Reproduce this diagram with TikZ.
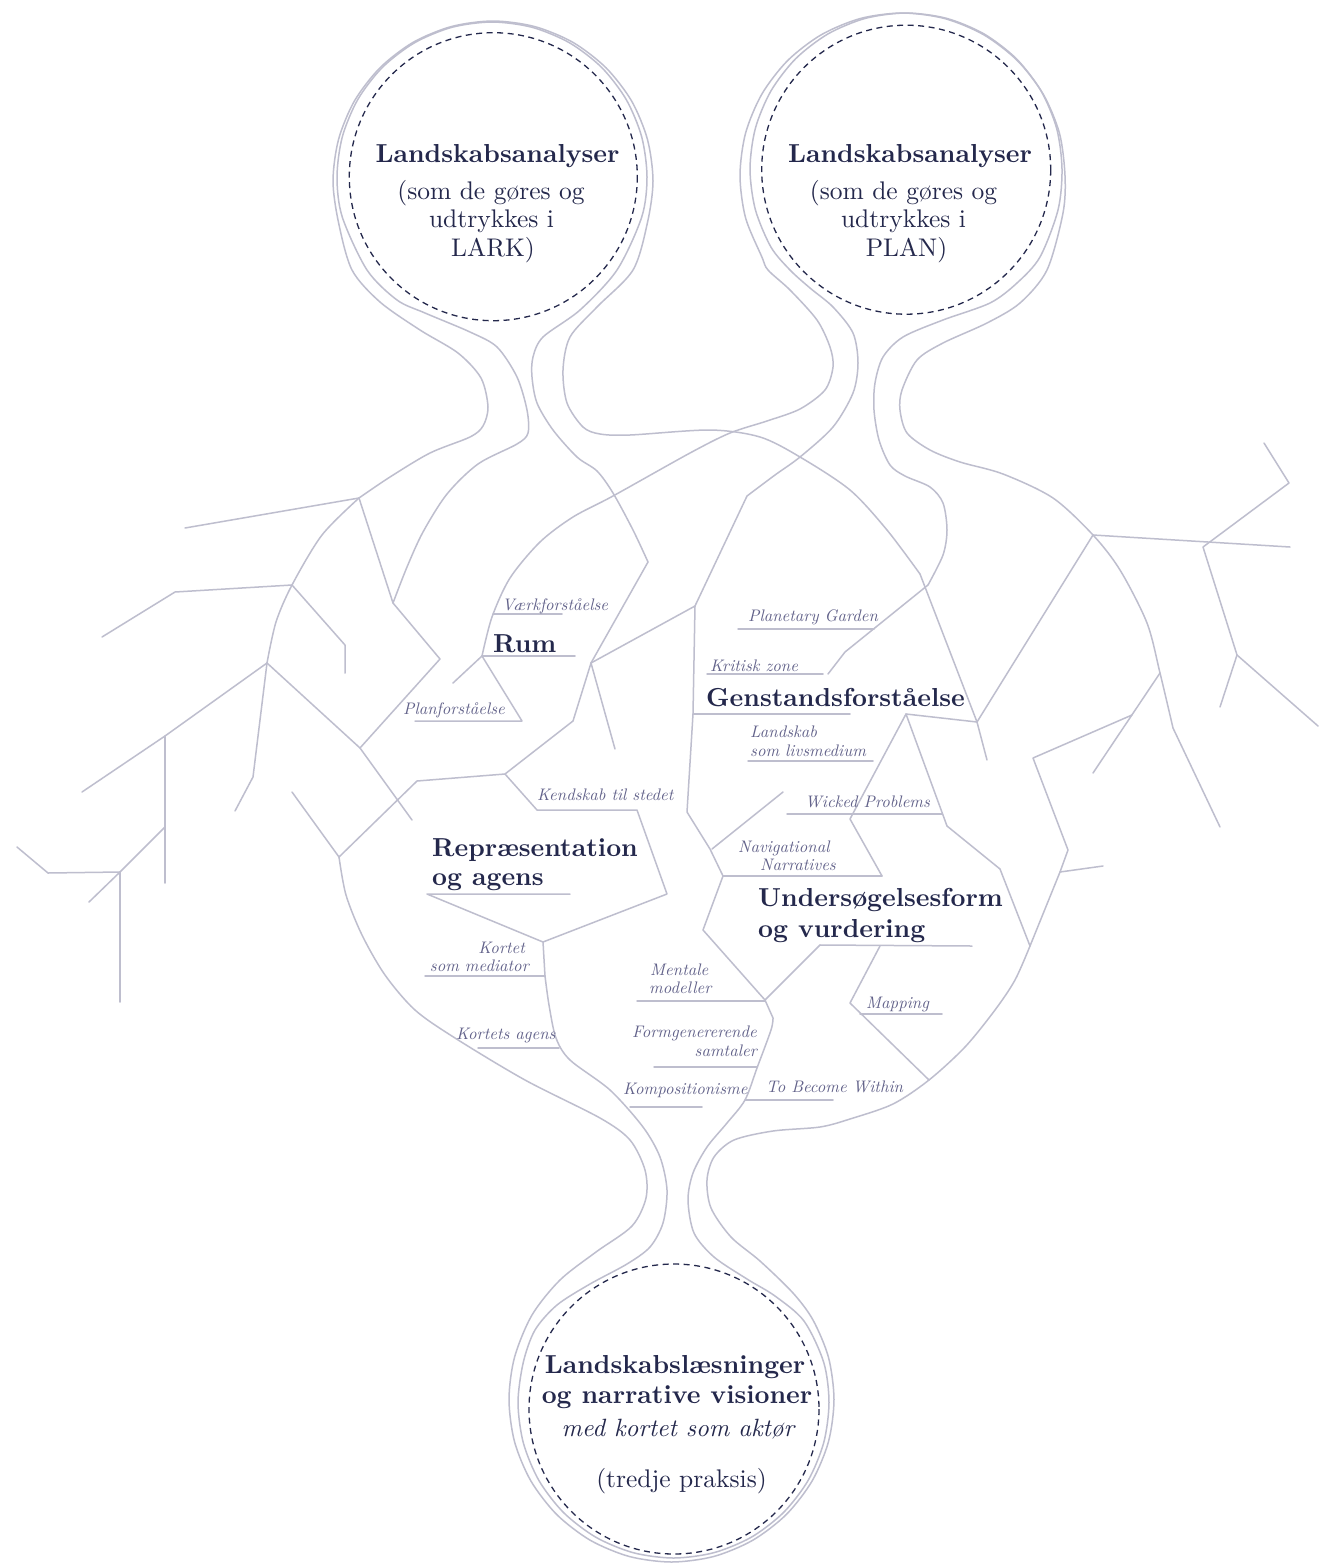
\documentclass[tikz,border=0pt]{standalone}
\usepackage{fontspec}
\setmainfont{lmroman10-regular.otf}[BoldFont=lmroman10-bold.otf, ItalicFont=lmroman10-italic.otf, BoldItalicFont=lmroman10-bolditalic.otf]
\definecolor{ln}{HTML}{BEBECE}
\definecolor{ink}{HTML}{24284C}
\definecolor{lab}{HTML}{62628A}
\tikzset{
  br/.style={draw=ln, line width=1.5pt, line cap=round, line join=round},
  dsh/.style={draw=ink, line width=1.3pt, dash pattern=on 6pt off 4.5pt},
  ttl/.style={font=\fontsize{26}{30}\selectfont\bfseries, text=ink, inner sep=0pt},
  txt/.style={font=\fontsize{25.5}{29}\selectfont, text=ink, inner sep=0pt},
  itx/.style={font=\fontsize{25}{29}\selectfont\itshape, text=ink, inner sep=0pt},
  lbl/.style={font=\fontsize{16.7}{19}\selectfont\itshape, text=lab, inner sep=0pt}
}
\begin{document}
\begin{tikzpicture}[x=1pt,y=-1pt]
\path[use as bounding box] (0,0) rectangle (1319,1564);
\fill[white] (0,0) rectangle (1319,1564);

% ---------- top-left circle strokes ----------
\draw[br] plot[smooth] coordinates {(359,498) (390,477) (430,453) (470,437) (483,426) (488,407) (481,378) (458,353) (420,330) (380,302) (352,270) (338.5,222.4) (333,181) (338.5,139.6) (354.4,101) (379.9,67.9) (413,42.4) (451.6,26.5) (493,21) (534.4,26.5) (573,42.4) (606.1,67.9) (631.6,101) (647.5,139.6) (653,181) (647.5,222.4) (633,270) (597,307) (570,337) (563,370) (567,403) (583,427) (600,434) (630,435) (710,430) (760,437) (800,457) (850,490) (887,530) (920,574)};
\draw[br] (920,574) -- (977,722) -- (987,760);
\draw[br] plot[smooth] coordinates {(393,603) (407,567) (423,532) (447,494) (478,464) (517,444) (528,433) (527,410) (517,377) (497,347) (470,332) (425,313) (397,300) (367,270) (342.3,217.1) (337,177) (342.3,136.9) (357.8,99.5) (382.4,67.4) (414.5,42.8) (451.9,27.3) (492,22) (532.1,27.3) (569.5,42.8) (601.6,67.4) (626.2,99.5) (641.7,136.9) (647,177) (641.7,217.1) (617,270) (580,310) (543,337) (533,357) (532,377) (537,403) (553,430) (577,457) (597,471) (613,493) (633,530) (648,562)};
\draw[br] (648,562) -- (591,663);

% ---------- top-right circle strokes ----------
\draw[br] plot[smooth] coordinates {(482,656) (492,617) (510,578) (540,542) (573,517) (613,496) (690,453) (730,433) (767,421) (800,409) (825,390) (833,367) (830,347) (817,320) (790,290) (768,270) (761.8,256.8) (745.5,217.6) (740,175.5) (745.5,133.4) (761.8,94.2) (787.6,60.6) (821.2,34.8) (860.4,18.5) (902.5,13) (944.6,18.5) (983.8,34.8) (1017.4,60.6) (1043.2,94.2) (1059.5,133.4) (1065,175.5) (1063,213) (1047,270) (1020,303) (987,323) (943,343) (917,360) (902,390) (900,410) (907,433) (930,450) (960,462) (1003,474) (1053,498) (1093,535) (1120,570) (1147,623) (1160,673) (1173,728)};
\draw[br] (1173,728) -- (1220,827);
\draw[br] (695,606) -- (747,496);
\draw[br] plot[smooth] coordinates {(747,496) (775,475) (800,457) (833,427) (853,393) (858,363) (853,333) (833,307) (810,288) (790,270) (770.9,247) (755.3,209.4) (750,169) (755.3,128.6) (770.9,91) (795.7,58.7) (828,33.9) (865.6,18.3) (906,13) (946.4,18.3) (984,33.9) (1016.3,58.7) (1041.1,91) (1056.7,128.6) (1062,169) (1058,210) (1040,257) (1017,283) (990,303) (943,320) (903,337) (883,357) (875,383) (874,410) (879,440) (890,465) (905,476) (930,487) (943,503) (947,530) (943,555) (928,585)};
\draw[br] (928,585) -- (845,652) -- (828,674);

% ---------- bottom circle strokes ----------
\draw[br] plot[smooth] coordinates {(339,857) (346,895) (362,935) (385,975) (415,1010) (455,1038) (525,1080) (600,1118) (630,1140) (645,1170) (646,1198) (632,1226) (596,1252) (560,1280) (532,1315) (514.5,1357.4) (509,1399.5) (514.5,1441.6) (530.8,1480.8) (556.6,1514.4) (590.2,1540.2) (629.4,1556.5) (671.5,1562) (713.6,1556.5) (752.8,1540.2) (786.4,1514.4) (812.2,1480.8) (828.5,1441.6) (834,1399.5) (828.5,1357.4) (813,1320) (793,1293) (760,1261) (731,1237) (711,1208) (707,1180) (714,1157) (734,1140) (773,1131) (820,1127) (850,1119) (893,1104) (929,1080) (965,1047) (995,1010) (1015,980) (1030,946)};
\draw[br] (543,942) -- (545,976);
\draw[br] plot[smooth] coordinates {(545,976) (549,1005) (556,1038) (570,1060) (610,1090) (643,1127) (660,1157) (667,1190) (663,1223) (650,1247) (627,1264) (590,1284) (557,1305) (535,1330) (523.3,1362.3) (518,1402.5) (523.3,1442.7) (538.8,1480.3) (563.5,1512.5) (595.8,1537.2) (633.3,1552.7) (673.5,1558) (713.7,1552.7) (751.3,1537.2) (783.5,1512.5) (808.2,1480.3) (823.7,1442.7) (829,1402.5) (823.7,1362.3) (804,1321) (775,1296) (747,1279) (714,1257) (694,1233) (688,1200) (693,1173) (707,1147) (727,1123) (745,1100) (757,1068) (771,1030) (773,1018)};
\draw[br] (773,1018) -- (765,1000);

% ---------- dashed circles ----------
\draw[dsh] (493.3,176.7) circle[radius=144];
\draw[dsh] (906.2,169.7) circle[radius=144.5];
\draw[dsh] (674,1409) circle[radius=145];

% ---------- right side ----------
\draw[br] (1093,535) -- (1290,547);
\draw[br] (1093,535) -- (977,722);
\draw[br] (906,714) -- (977,722);
\draw[br] (1264,443) -- (1289,483) -- (1203,547) -- (1237,655) -- (1220,707);
\draw[br] (1237,655) -- (1318,726);
\draw[br] (1160,673) -- (1093,773);
\draw[br] (1132,715) -- (1033,758) -- (1068,850) -- (1060,872) -- (1030,946);
\draw[br] (1060,872) -- (1103,866);
\draw[br] (906,714) -- (947,826) -- (1000,869) -- (1030,946);
\draw[br] (906,714) -- (850,819) -- (882,876);

% ---------- middle ----------
\draw[br] (591,663) -- (695,606);
\draw[br] (695,606) -- (693,714) -- (687,812) -- (710,849) -- (723,876) -- (703,930) -- (765,1000);
\draw[br] (693,714) -- (850,714);
\draw[br] (738,629) -- (874,629);
\draw[br] (707,674) -- (823,674);
\draw[br] (748,761) -- (873,761);
\draw[br] (787,814) -- (942,814);
\draw[br] (783,792) -- (712,849);
\draw[br] (723,876) -- (882,876);
\draw[br] (820,945) -- (972,946);
\draw[br] (765,1000) -- (820,945);
\draw[br] (880,946) -- (850,1003) -- (929,1080);
\draw[br] (860,1014) -- (942,1014);
\draw[br] (637,1001) -- (765,1001);
\draw[br] (654,1067) -- (757,1067);
\draw[br] (630,1107) -- (702,1107);
\draw[br] (745,1100) -- (833,1100);

% ---------- left-middle ----------
\draw[br] (591,663) -- (615,749);
\draw[br] (591,663) -- (573,721) -- (505,774) -- (417,781) -- (339,857);
\draw[br] (505,774) -- (537,810) -- (637,810) -- (667,894) -- (543,942) -- (427,894) -- (570,894);
\draw[br] (425,976) -- (545,976);
\draw[br] (478,1048) -- (559,1048);
\draw[br] (482,656) -- (575,656);
\draw[br] (482,656) -- (453,683);
\draw[br] (482,656) -- (522,721) -- (415,721);
\draw[br] (493,614) -- (562,614);

% ---------- left ----------
\draw[br] (359,498) -- (185,528);
\draw[br] (359,498) -- (393,603) -- (440,659) -- (360,748) -- (412,820);
\draw[br] plot[smooth] coordinates {(359,498) (322,535) (292,585) (276,622) (267,663)};
\draw[br] (267,663) -- (253,777) -- (235,811);
\draw[br] (292,585) -- (175,592) -- (102,637);
\draw[br] (292,585) -- (345,645) -- (345,673);
\draw[br] (267,663) -- (360,748);
\draw[br] (267,663) -- (165,736) -- (82,792);
\draw[br] (165,736) -- (165,883);
\draw[br] (165,827) -- (120,872) -- (89,902);
\draw[br] (120,872) -- (120,1002);
\draw[br] (120,872) -- (48,873) -- (17,847);
\draw[br] (292,792) -- (339,857);

% ---------- circle texts ----------
\node[ttl, anchor=base] (t1) at (497.5,162) {Landskabsanalyser};
\node[txt, anchor=base] (t1a) at (491,199) {(som de gøres og};
\node[txt, anchor=base] (t1b) at (491.5,227) {udtrykkes i};
\node[txt, anchor=base] (t1c) at (493,256) {LARK)};
\node[ttl, anchor=base] (t2) at (910,162) {Landskabsanalyser};
\node[txt, anchor=base] (t2a) at (903.5,199) {(som de gøres og};
\node[txt, anchor=base] (t2b) at (903.5,227) {udtrykkes i};
\node[txt, anchor=base] (t2c) at (906.5,256) {PLAN)};
\node[ttl, anchor=base] (b1) at (675,1373) {Landskabslæsninger};
\node[ttl, anchor=base] (b2) at (677,1403) {og narrative visioner};
\node[itx, anchor=base] (b3) at (678,1436) {med kortet som aktør};
\node[txt, anchor=base] (b4) at (681.5,1487) {(tredje praksis)};

% ---------- section titles ----------
\node[ttl, anchor=base west] (rum) at (493,652) {Rum};
\node[ttl, anchor=base west] (rep1) at (432,856) {Repræsentation};
\node[ttl, anchor=base west] (rep2) at (432,885) {og agens};
\node[ttl, anchor=base west] (gen) at (706,706) {Genstandsforståelse};
\node[ttl, anchor=base west] (und1) at (758,906) {Undersøgelsesform};
\node[ttl, anchor=base west] (und2) at (758,937) {og vurdering};

% ---------- labels ----------
\node[lbl, anchor=base west] (l1) at (502,610) {Værkforståelse};
\node[lbl, anchor=base west] (l2) at (403,714) {Planforståelse};
\node[lbl, anchor=base west] (l3) at (537,800) {Kendskab til stedet};
\node[lbl, anchor=base east] (l4a) at (525,953) {Kortet};
\node[lbl, anchor=base east] (l4b) at (529,971) {som mediator};
\node[lbl, anchor=base west] (l5) at (456,1039) {Kortets agens};
\node[lbl, anchor=base west] (l6) at (748,621) {Planetary Garden};
\node[lbl, anchor=base west] (l7) at (710,671) {Kritisk zone};
\node[lbl, anchor=base west] (l8a) at (750,737) {Landskab};
\node[lbl, anchor=base west] (l8b) at (750,756) {som livsmedium};
\node[lbl, anchor=base west] (l9) at (805,807) {Wicked Problems};
\node[lbl, anchor=base west] (l10a) at (738,852) {Navigational};
\node[lbl, anchor=base west] (l10b) at (760,870) {Narratives};
\node[lbl, anchor=base west] (l11a) at (650,975) {Mentale};
\node[lbl, anchor=base west] (l11b) at (649,993) {modeller};
\node[lbl, anchor=base west] (l12) at (866,1008) {Mapping};
\node[lbl, anchor=base east] (l13a) at (757,1037) {Formgenererende};
\node[lbl, anchor=base east] (l13b) at (757,1056) {samtaler};
\node[lbl, anchor=base west] (l14) at (623,1094) {Kompositionisme};
\node[lbl, anchor=base west] (l15) at (766,1092) {To Become Within};
\end{tikzpicture}
\end{document}
